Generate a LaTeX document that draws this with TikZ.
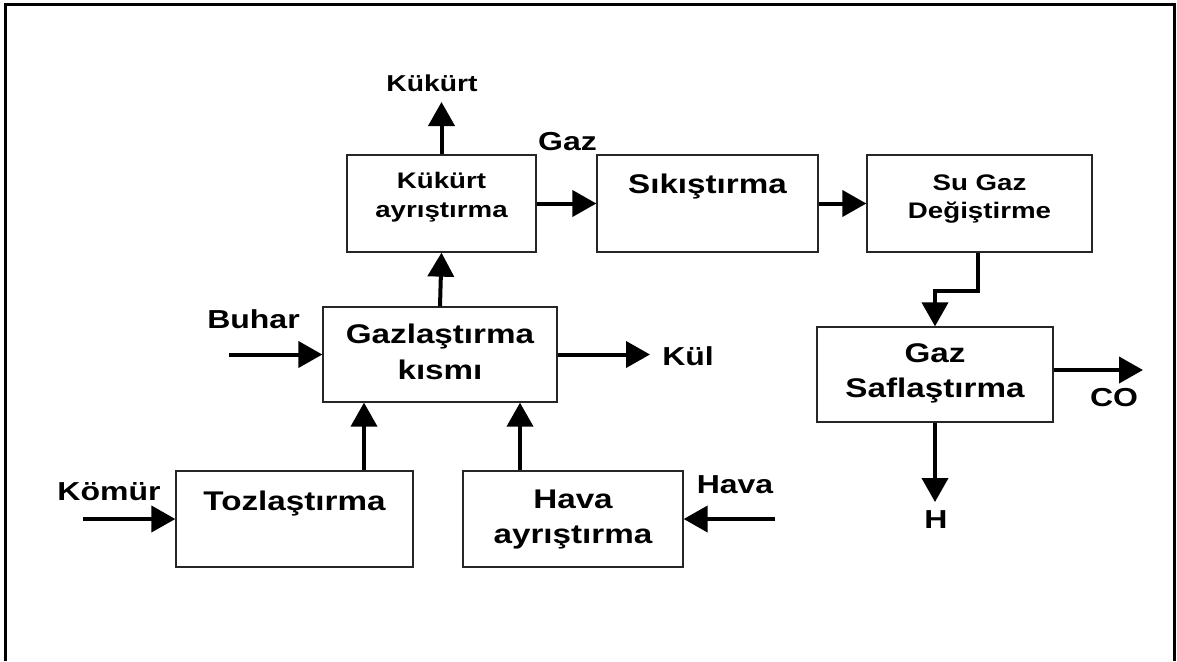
\documentclass[tikz,border=0pt]{standalone}
\usepackage{fontspec}
\setmainfont{Liberation Sans}[FakeStretch=1.23]
\usetikzlibrary{arrows.meta}
\tikzset{
  box/.style={draw=black!85, line width=1.3pt, rectangle, inner sep=0pt},
  arr/.style={line width=4pt, line join=miter, -{Triangle[length=24pt,width=26pt]}},
  bigtxt/.style={anchor=base, inner sep=0pt, font=\bfseries\fontsize{27}{32}\selectfont},
  smalltxt/.style={anchor=base, inner sep=0pt, font=\bfseries\fontsize{22.5}{27}\selectfont},
  labtxt/.style={anchor=base, inner sep=0pt, font=\bfseries\fontsize{26}{31}\selectfont},
  labsmall/.style={anchor=base, inner sep=0pt, font=\bfseries\fontsize{23}{28}\selectfont}
}
\begin{document}
\begin{tikzpicture}[x=1pt,y=-1pt]
\useasboundingbox (0,0) rectangle (1177,661);
\draw[line width=3pt] (5,661) -- (5,5) -- (1174,5) -- (1174,661);

% boxes
\node[box, minimum width=189pt, minimum height=97pt] (kuk) at (441.5,203.5) {};
\node[box, minimum width=221pt, minimum height=97pt] (sik) at (707.5,203.5) {};
\node[box, minimum width=225pt, minimum height=97pt] (su) at (979.5,203.5) {};
\node[box, minimum width=234pt, minimum height=95pt] (gaz) at (440,354.5) {};
\node[box, minimum width=237pt, minimum height=96pt] (toz) at (294.5,519) {};
\node[box, minimum width=220pt, minimum height=96pt] (hav) at (573,519) {};
\node[box, minimum width=236pt, minimum height=95pt] (saf) at (935,374.5) {};

% box texts
\node[smalltxt] (kukT1) at (441.5,188) {Kükürt};
\node[smalltxt] (kukT2) at (441.5,217) {ayrıştırma};
\node[bigtxt] (sikT) at (707.5,193) {Sıkıştırma};
\node[smalltxt] (suT1) at (979.5,190) {Su Gaz};
\node[smalltxt] (suT2) at (979.5,218) {Değiştirme};
\node[bigtxt] (gazT1) at (440,343) {Gazlaştırma};
\node[bigtxt] (gazT2) at (440,379) {kısmı};
\node[bigtxt] (tozT) at (294.5,510) {Tozlaştırma};
\node[bigtxt] (havT1) at (573,508) {Hava};
\node[bigtxt] (havT2) at (573,543) {ayrıştırma};
\node[bigtxt] (safT1) at (935,362) {Gaz};
\node[bigtxt] (safT2) at (935,397) {Saflaştırma};

% free labels
\node[labsmall] (lkuk) at (432,92) {Kükürt};
\node[labtxt] (lgaz) at (567.5,150) {Gaz};
\node[labtxt] (lbuh) at (253.5,328) {Buhar};
\node[labtxt] (lkul) at (688,365) {Kül};
\node[labtxt] (lkom) at (109,500) {Kömür};
\node[labtxt] (lhav) at (735,493) {Hava};
\node[labtxt] (lco) at (1114,406) {CO};
\node[labtxt] (lh) at (936,528) {H};

% free ends
\coordinate (kukOut) at (441.5,102);
\coordinate (buhIn) at (229,354.5);
\coordinate (kulOut) at (650,354.5);
\coordinate (komIn) at (83,519);
\coordinate (havIn) at (775,519);
\coordinate (coOut) at (1143,370);
\coordinate (hOut) at (935,502);
\coordinate (tzx) at (364,0);
\coordinate (hvx) at (520,0);

% connectors
\draw[arr] (kuk.north) -- (kukOut);
\draw[arr] (kuk.east) -- (sik.west);
\draw[arr] (sik.east) -- (su.west);
\draw[arr] ([xshift=-1.5pt]su.south) -- ++(0,38) -| (saf.north);
\draw[arr] (gaz.north) -- (kuk.south);
\draw[arr] (buhIn) -- (gaz.west);
\draw[arr] (gaz.east) -- (kulOut);
\draw[arr] (toz.north -| tzx) -- (gaz.south -| tzx);
\draw[arr] (hav.north -| hvx) -- (gaz.south -| hvx);
\draw[arr] (komIn) -- (toz.west);
\draw[arr] (havIn) -- (hav.east);
\draw[arr] (saf.east |- coOut) -- (coOut);
\draw[arr] (saf.south) -- (hOut);
\end{tikzpicture}
\end{document}
